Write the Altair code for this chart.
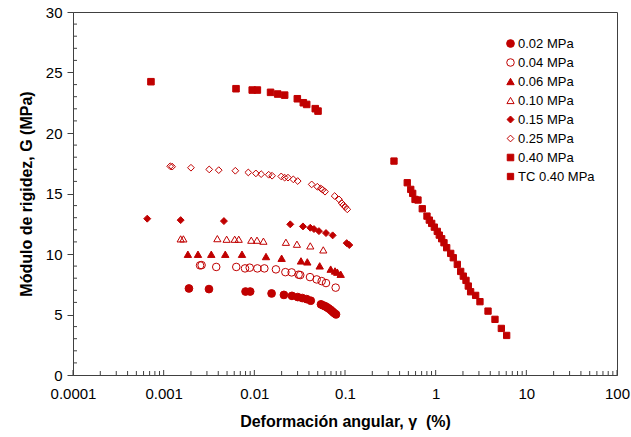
import altair as alt
import pandas as pd

series = ["0.02 MPa", "0.04 MPa", "0.06 MPa", "0.10 MPa", "0.15 MPa", "0.25 MPa", "0.40 MPa", "TC 0.40 MPa"]

s002_x = [0.0019, 0.00316, 0.0080, 0.0090, 0.0155, 0.0212, 0.026, 0.0301, 0.0338, 0.0378, 0.0419, 0.0543, 0.057, 0.0602, 0.063, 0.0661, 0.070, 0.0731, 0.076, 0.0796]
s002_y = [7.15, 7.1, 6.9, 6.9, 6.74, 6.62, 6.54, 6.44, 6.36, 6.27, 6.14, 5.84, 5.76, 5.69, 5.6, 5.5, 5.36, 5.23, 5.12, 5.01]

s004_x = [0.00252, 0.00262, 0.0038, 0.00632, 0.00789, 0.00889, 0.0108, 0.0129, 0.0173, 0.0220, 0.0258, 0.0308, 0.0321, 0.0411, 0.0487, 0.0553, 0.0617, 0.0789]
s004_y = [9.06, 9.08, 8.93, 8.93, 8.81, 8.87, 8.81, 8.81, 8.73, 8.5, 8.48, 8.29, 8.26, 8.09, 7.9, 7.76, 7.6, 7.22]

s006_x = [0.00185, 0.00239, 0.00335, 0.00478, 0.00731, 0.01345, 0.0200, 0.0327, 0.0384, 0.0526, 0.0695, 0.0776, 0.0822, 0.0896]
s006_y = [9.98, 9.98, 9.98, 9.98, 9.98, 9.79, 9.65, 9.43, 9.35, 9.02, 8.75, 8.6, 8.5, 8.33]

s010_x = [0.00154, 0.00165, 0.00391, 0.00495, 0.00607, 0.00673, 0.00925, 0.0107, 0.0126, 0.0223, 0.0295, 0.0414, 0.0576]
s010_y = [11.25, 11.25, 11.27, 11.22, 11.22, 11.22, 11.14, 11.14, 11.06, 10.97, 10.81, 10.67, 10.34]

s015_x = [0.000659, 0.00154, 0.00462, 0.0249, 0.0344, 0.0414, 0.0455, 0.0516, 0.0617, 0.0731, 0.1044, 0.1115]
s015_y = [12.92, 12.8, 12.72, 12.45, 12.28, 12.17, 12.06, 11.89, 11.73, 11.54, 10.9, 10.74]

s025_x = [0.00118, 0.00124, 0.0020, 0.00318, 0.00405, 0.00617, 0.00858, 0.0104, 0.0119, 0.0144, 0.0157, 0.0198, 0.0216, 0.0235, 0.0269, 0.0301, 0.0429, 0.0495, 0.054, 0.0567, 0.0602, 0.0769, 0.0859, 0.0919, 0.0958, 0.1007, 0.106]
s025_y = [17.25, 17.22, 17.13, 16.99, 16.93, 16.88, 16.74, 16.66, 16.6, 16.55, 16.47, 16.41, 16.31, 16.31, 16.17, 16.03, 15.75, 15.56, 15.42, 15.31, 15.15, 14.79, 14.51, 14.21, 14.04, 13.88, 13.69]

s040_x = [0.000724, 0.00628, 0.00948, 0.0108, 0.0151, 0.0181, 0.0216, 0.0298, 0.0347, 0.0378, 0.047, 0.0504]
s040_y = [24.24, 23.66, 23.55, 23.55, 23.36, 23.22, 23.13, 22.83, 22.5, 22.36, 22.01, 21.81]

tc_x = [0.347, 0.486, 0.531, 0.558, 0.592, 0.638, 0.712, 0.802, 0.851, 0.904, 0.966, 1.042, 1.096, 1.165, 1.235, 1.323, 1.465, 1.564, 1.733, 1.888, 2.017, 2.160, 2.29, 2.43, 2.76, 3.08, 3.78, 4.51, 5.30, 6.07]
tc_y = [17.68, 15.89, 15.34, 15.01, 14.51, 14.46, 13.74, 13.13, 12.8, 12.53, 12.22, 11.87, 11.56, 11.26, 10.93, 10.52, 10.05, 9.69, 9.14, 8.56, 8.17, 7.82, 7.35, 6.88, 6.58, 6.06, 5.28, 4.6, 3.85, 3.27]

xs = [s002_x, s004_x, s006_x, s010_x, s015_x, s025_x, s040_x, tc_x]
ys = [s002_y, s004_y, s006_y, s010_y, s015_y, s025_y, s040_y, tc_y]

rows = []
for name, xv, yv in zip(series, xs, ys):
    for a, b in zip(xv, yv):
        rows.append({"gamma": a, "G": b, "serie": name})
df = pd.DataFrame(rows)

x_major = [0.0001, 0.001, 0.01, 0.1, 1, 10, 100]
x_minor = [k * d for d in [0.0001, 0.001, 0.01, 0.1, 1, 10] for k in range(2, 10)]
y_major = [0, 5, 10, 15, 20, 25, 30]
y_minor = [v for v in range(1, 30) if v % 5 != 0]

RED = "#C00000"
shapes = ["circle", "circle", "triangle-up", "triangle-up", "diamond", "diamond", "square", "square"]
fills = [RED, "transparent", RED, "transparent", RED, "transparent", RED, RED]
sizes = [60, 40, 66, 44, 55, 40, 50, 50]

xscale = alt.Scale(type="log", domain=[0.0001, 100])
yscale = alt.Scale(domain=[0, 30], nice=False, zero=True)

xaxis = alt.Axis(values=x_major, labelExpr="'' + datum.value", tickSize=0, ticks=False,
                 labelPadding=11, title="Deformación angular, γ\u00a0 (%)", grid=False,
                 titlePadding=12, labelFlush=False)
yaxis = alt.Axis(values=y_major, tickSize=6, grid=False, labelPadding=5,
                 title="Módulo de rigidez, G (MPa)", titlePadding=11)

points = alt.Chart(df).mark_point(strokeWidth=1, opacity=1).encode(
    x=alt.X("gamma:Q", scale=xscale, axis=xaxis),
    y=alt.Y("G:Q", scale=yscale, axis=yaxis),
    shape=alt.Shape("serie:N", sort=series, scale=alt.Scale(domain=series, range=shapes),
                    legend=alt.Legend(title=None, orient="none", legendX=431, legendY=25,
                                      labelFontSize=13, rowPadding=5, symbolStrokeWidth=1,
                                      labelOffset=1)),
    fill=alt.Fill("serie:N", sort=series, scale=alt.Scale(domain=series, range=fills)),
    stroke=alt.Stroke("serie:N", sort=series, scale=alt.Scale(domain=series, range=[RED] * 8)),
    size=alt.Size("serie:N", sort=series, scale=alt.Scale(domain=series, range=sizes)),
)

xmin_df = pd.DataFrame({"gamma": x_minor})
xmaj_df = pd.DataFrame({"gamma": x_major})
ymin_df = pd.DataFrame({"G": y_minor})

xminor_ticks = alt.Chart(xmin_df).mark_rule(color="#404040", strokeWidth=1).encode(
    x=alt.X("gamma:Q", scale=xscale, axis=xaxis), y=alt.value(363), y2=alt.value(359))
xmajor_ticks = alt.Chart(xmaj_df).mark_rule(color="#404040", strokeWidth=1).encode(
    x=alt.X("gamma:Q", scale=xscale, axis=xaxis), y=alt.value(363), y2=alt.value(358))
yminor_ticks = alt.Chart(ymin_df).mark_rule(color="#404040", strokeWidth=1).encode(
    y=alt.Y("G:Q", scale=yscale, axis=yaxis), x=alt.value(0), x2=alt.value(4))

chart = alt.layer(xminor_ticks, xmajor_ticks, yminor_ticks, points).properties(
    width=544, height=363, autosize="none",
    padding={"left": 73, "top": 12, "right": 14, "bottom": 62},
).configure(font="Liberation Sans").configure_view(
    stroke="#404040", strokeWidth=1
).configure_axis(
    domainColor="#404040", tickColor="#404040", labelColor="#000000", titleColor="#000000",
    labelFontSize=15, titleFontSize=16, titleFontWeight="bold", labelFont="Liberation Sans",
    titleFont="Liberation Sans"
).configure_legend(labelColor="#000000", labelFont="Liberation Sans")

chart.save("out.html", embed_options={"renderer": "svg", "actions": False})
